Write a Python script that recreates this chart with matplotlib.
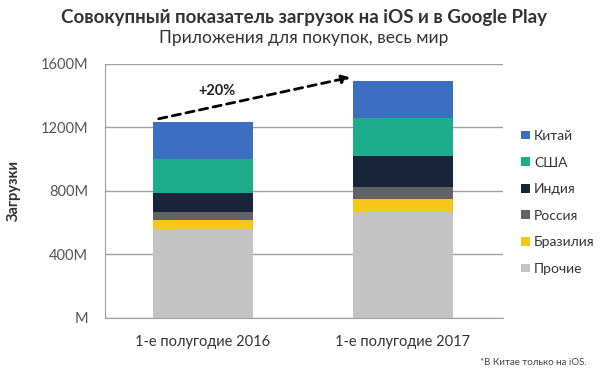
import numpy as np
import matplotlib
matplotlib.use('Agg')
import matplotlib.pyplot as plt

plt.rcParams['font.family'] = ['Lato', 'Open Sans', 'DejaVu Sans']

# данные (млн загрузок)
periods = ['1-е полугодие 2016', '1-е полугодие 2017']
countries = ['Прочие', 'Бразилия', 'Россия', 'Индия', 'США', 'Китай']
prochie = [560, 670]
brazil = [57, 78]
russia = [53, 79]
india = [115, 195]
usa = [216, 240]
china = [236, 233]
series = [prochie, brazil, russia, india, usa, china]
colors = ['#c3c3c3', '#f6c619', '#616366', '#17243a', '#1cae8c', '#3c6fc2']
yticks = [0, 400, 800, 1200, 1600]
ytick_labels = ['M', '400M', '800M', '1200M', '1600M']
growth_label = '+20%'

fig = plt.figure(figsize=(6.08, 3.76), dpi=100)
ax = fig.add_axes([0.1727, 0.1543, 0.6546, 0.6755])

x = np.arange(len(periods))
w = 0.5
bottom = np.zeros(len(periods))
bars = []
for vals, c, name in zip(series, colors, countries):
    b = ax.bar(x, vals, w, bottom=bottom, color=c, label=name, zorder=3)
    bars.append(b)
    bottom += np.array(vals)

ax.set_xlim(-0.49, 1.5)
ax.set_ylim(0, 1600)
ax.set_yticks(yticks)
ax.set_yticklabels(ytick_labels)
ax.set_xticks(x)
ax.set_xticklabels(periods)
ax.tick_params(length=0, labelsize=10.5, colors='#555555', pad=12)
ax.tick_params(axis='x', colors='#333333', pad=12)
ax.grid(axis='y', color='#a0a0a0', linewidth=1, zorder=0)
for s in ['top', 'right']:
    ax.spines[s].set_visible(False)
for s in ['left', 'bottom']:
    ax.spines[s].set_color('#a0a0a0')
ax.set_ylabel('Загрузки', fontsize=10.5, fontweight='bold', color='#333333', labelpad=14)

# стрелка роста
tops = bottom
ax.annotate('', xy=(x[1] - w / 2, tops[1] + 25), xytext=(x[0] - w * 0.47, tops[0] + 14),
            arrowprops=dict(arrowstyle='-|>', linestyle=(0, (3, 2)), color='black',
                            lw=2, mutation_scale=12), zorder=5)
ax.text(x[0] + 0.07, 1430, growth_label, fontsize=10.5, fontweight='bold',
        ha='center', va='center', color='#222222')

# легенда
handles = bars[::-1]
leg = ax.legend(handles, countries[::-1], loc='center left', bbox_to_anchor=(1.015, 0.455),
                frameon=False, fontsize=10, handlelength=0.6, handleheight=0.6,
                handletextpad=0.3, labelspacing=1.05, labelcolor='#333333')

fig.text(0.5, 0.953, 'Совокупный показатель загрузок на iOS и в Google Play',
         ha='center', va='center', fontsize=13.5, fontweight='bold', color='#333333')
fig.text(0.5, 0.898, 'Приложения для покупок, весь мир',
         ha='center', va='center', fontsize=12.5, color='#333333')
fig.text(0.965, 0.037, '*В Китае только на iOS.', ha='right', va='center',
         fontsize=7, color='#444444')

fig.savefig('out.png', dpi=100)
